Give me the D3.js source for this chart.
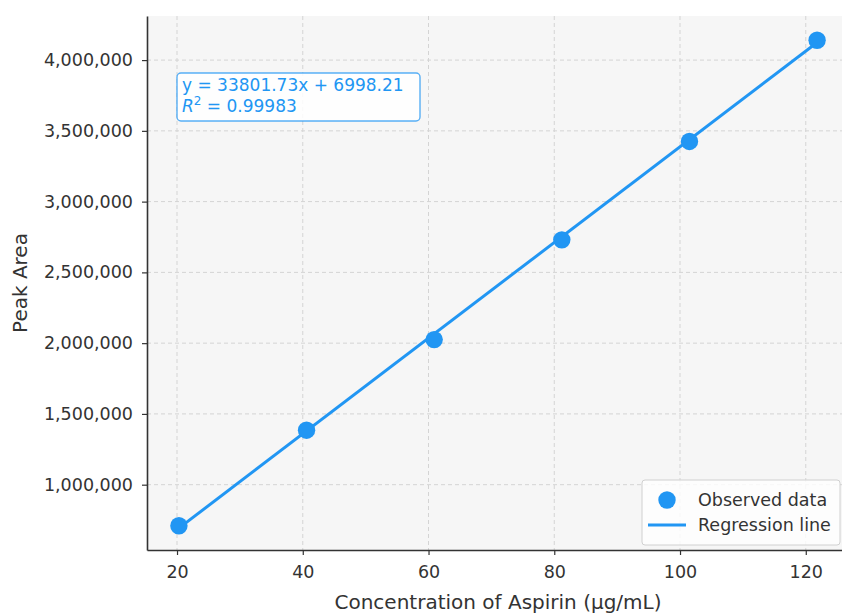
<!DOCTYPE html>
<html>
<head>
<meta charset="utf-8">
<script src="https://cdn.jsdelivr.net/npm/d3@7"></script>
<style>
  html, body { margin: 0; padding: 0; background: #fff; }
  svg { display: block; font-family: "DejaVu Sans", sans-serif; }
  .tick text { fill: #333; font-size: 17.5px; }
  .axis-label { fill: #333; font-size: 20px; }
</style>
</head>
<body>
<div id="chart"></div>
<script>
// calibration data
const concentrations = [20.3, 40.6, 60.9, 81.2, 101.5, 121.8];
const peakAreas = [710000, 1385000, 2025000, 2730000, 3425000, 4140000];
const xTicks = [20, 40, 60, 80, 100, 120];
const yTicks = [1000000, 1500000, 2000000, 2500000, 3000000, 3500000, 4000000];
const slope = 33801.73;
const intercept = 6998.21;
const rSquared = "0.99983";
const seriesNames = ["Observed data", "Regression line"];

const width = 842;
const height = 615;
const margin = {top: 16, right: -7, bottom: 65, left: 147};
const blue = "#2196F3";

const svg = d3.select("#chart").append("svg")
  .attr("width", width)
  .attr("height", height);

// matplotlib style 5% padding on both axes
const pad = (ext) => {
  const d = ext[1] - ext[0];
  return [ext[0] - d * 0.05, ext[1] + d * 0.05];
};

const x = d3.scaleLinear()
  .domain(pad(d3.extent(concentrations)))
  .range([margin.left, width - margin.right]);

const y = d3.scaleLinear()
  .domain(pad(d3.extent(peakAreas)))
  .range([height - margin.bottom, margin.top]);

// plot background
svg.append("rect")
  .attr("x", margin.left)
  .attr("y", margin.top)
  .attr("width", width - margin.right - margin.left)
  .attr("height", height - margin.bottom - margin.top)
  .attr("fill", "#f6f6f6");

// grid
const grid = svg.append("g").attr("stroke", "#d4d4d4").attr("stroke-width", 1).attr("stroke-dasharray", "4,3");
grid.selectAll("line.vx").data(xTicks).join("line")
  .attr("class", "vx")
  .attr("x1", (d) => x(d)).attr("x2", (d) => x(d))
  .attr("y1", margin.top).attr("y2", height - margin.bottom);
grid.selectAll("line.hy").data(yTicks).join("line")
  .attr("class", "hy")
  .attr("x1", margin.left).attr("x2", width - margin.right)
  .attr("y1", (d) => y(d)).attr("y2", (d) => y(d));

// axes
const fmt = d3.format(",");
const xAxis = svg.append("g")
  .attr("transform", `translate(0,${height - margin.bottom})`)
  .call(d3.axisBottom(x).tickValues(xTicks).tickSize(5).tickPadding(11).tickSizeOuter(0));
const yAxis = svg.append("g")
  .attr("transform", `translate(${margin.left},0)`)
  .call(d3.axisLeft(y).tickValues(yTicks).tickFormat(fmt).tickSize(5).tickPadding(9).tickSizeOuter(0));

[xAxis, yAxis].forEach((g) => {
  g.select(".domain").attr("stroke", "#333").attr("stroke-width", 1.6);
  g.selectAll(".tick line").attr("stroke", "#333").attr("stroke-width", 1.2);
  g.attr("font-family", null).attr("font-size", null);
});

svg.append("text")
  .attr("class", "axis-label")
  .attr("x", (margin.left + width - margin.right) / 2)
  .attr("y", 609)
  .attr("text-anchor", "middle")
  .text("Concentration of Aspirin (µg/mL)");

svg.append("text")
  .attr("class", "axis-label")
  .attr("transform", `translate(27,${(margin.top + height - margin.bottom) / 2}) rotate(-90)`)
  .attr("text-anchor", "middle")
  .text("Peak Area");

// regression line from displayed equation
const xr = d3.extent(concentrations);
const fitLine = d3.line().x((d) => x(d)).y((d) => y(slope * d + intercept));
svg.append("path")
  .datum(xr)
  .attr("d", fitLine)
  .attr("fill", "none")
  .attr("stroke", blue)
  .attr("stroke-width", 3);

// observed points
svg.append("g").selectAll("circle")
  .data(concentrations)
  .join("circle")
  .attr("cx", (d) => x(d))
  .attr("cy", (d, i) => y(peakAreas[i]))
  .attr("r", 8.7)
  .attr("fill", blue);

// equation box
const eq = svg.append("g").attr("transform", "translate(177,73)");
eq.append("rect")
  .attr("width", 243).attr("height", 48).attr("rx", 4)
  .attr("fill", "#fff").attr("fill-opacity", 0.85)
  .attr("stroke", blue).attr("stroke-opacity", 0.75).attr("stroke-width", 1.4);
const eqText = eq.append("g").attr("fill", blue).attr("font-size", 17);
eqText.append("text").attr("x", 5).attr("y", 18)
  .text(`y = ${slope}x + ${intercept}`);
const r2 = eqText.append("text").attr("x", 5).attr("y", 39);
r2.append("tspan").attr("font-style", "italic").text("R");
r2.append("tspan").attr("font-size", 12).attr("dy", -7).text("2");
r2.append("tspan").attr("dy", 7).text(` = ${rSquared}`);

// legend
const lg = svg.append("g").attr("transform", "translate(642,480)");
lg.append("rect")
  .attr("width", 198).attr("height", 65).attr("rx", 3)
  .attr("fill", "#fff").attr("fill-opacity", 0.8)
  .attr("stroke", "#d0d0d0").attr("stroke-width", 1);
lg.append("circle").attr("cx", 25).attr("cy", 20).attr("r", 8.7).attr("fill", blue);
lg.append("line").attr("x1", 6).attr("x2", 44).attr("y1", 45).attr("y2", 45)
  .attr("stroke", blue).attr("stroke-width", 3);
lg.selectAll("text.lbl").data(seriesNames).join("text")
  .attr("class", "lbl")
  .attr("x", 56)
  .attr("y", (d, i) => 26 + i * 25)
  .attr("fill", "#333")
  .attr("font-size", 17.5)
  .text((d) => d);
</script>
</body>
</html>
